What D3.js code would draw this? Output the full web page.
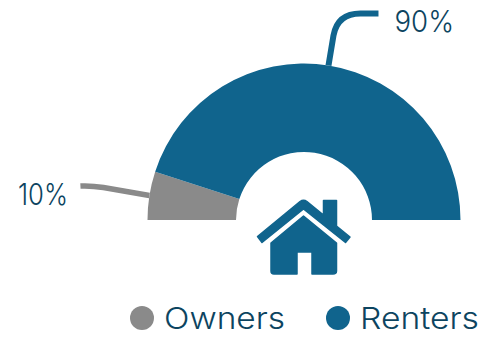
<!DOCTYPE html>
<html>
<head>
<meta charset="utf-8">
<script src="https://cdn.jsdelivr.net/npm/d3@7/dist/d3.min.js"></script>
<style>
html,body{margin:0;padding:0;background:#fff}
text{font-family:"Inter","Open Sans",sans-serif;font-weight:300;fill:#0c4460}
</style>
</head>
<body>
<svg id="chart" width="490" height="338"></svg>
<script>
// Housing tenure split, drawn as a half donut
const categories = ["Owners", "Renters"];
const shares = [10, 90];
const valueLabels = ["10%", "90%"];
const colours = ["#8a8a8a", "#10648d"];

const svg = d3.select("#chart");
const cx = 304, cy = 220, outerR = 156.5, innerR = 68;
const root = svg.append("g").attr("transform", `translate(${cx},${cy})`);

const pie = d3.pie().sort(null).value(d => d)
  .startAngle(-Math.PI / 2).endAngle(Math.PI / 2);
const arcs = pie(shares);
const arc = d3.arc().innerRadius(innerR).outerRadius(outerR);

root.selectAll("path.slice").data(arcs).join("path")
  .attr("class", "slice")
  .attr("d", arc)
  .attr("fill", (d, i) => colours[i]);

// Leader lines start on the rim at each slice's mid angle
const rim = d => {
  const a = (d.startAngle + d.endAngle) / 2;
  return [outerR * Math.sin(a), -outerR * Math.cos(a)];
};
const leaderShapes = [
  ([x, y]) => `M${x},${y}L${x - 46},${y - 8}Q${x - 58},${y - 10} ${x - 69},${y - 9.5}`,
  ([x, y]) => `M${x},${y}L${x + 5},${y - 30}Q${x + 9},${y - 52} ${x + 32},${y - 52}L${x + 50},${y - 52}`
];
root.selectAll("path.leader").data(arcs).join("path")
  .attr("class", "leader")
  .attr("d", (d, i) => leaderShapes[i](rim(d)))
  .attr("fill", "none")
  .attr("stroke", (d, i) => colours[i])
  .attr("stroke-width", (d, i) => i ? 6 : 5.5);

// Value labels beside the leader ends
const labelPos = [[18, 205], [394.5, 31.5]];
svg.selectAll("text.value").data(valueLabels).join("text")
  .attr("class", "value")
  .attr("x", (d, i) => labelPos[i][0])
  .attr("y", (d, i) => labelPos[i][1])
  .attr("font-size", 30)
  .attr("textLength", (d, i) => i ? 59.5 : 50)
  .attr("lengthAdjust", "spacingAndGlyphs")
  .text(d => d);

// House icon in the hollow of the donut
svg.append("path")
  .attr("fill", colours[1])
  .attr("stroke", colours[1])
  .attr("stroke-width", 1.5)
  .attr("stroke-linejoin", "round")
  .attr("d", "M257.5,236.5L300,201.5Q303.5,199 307,201.5L323.5,215V200.5H336.5V226L350,237L345.5,242.5L303.5,209L262,242.5Z");
svg.append("path")
  .attr("fill", colours[1])
  .attr("stroke", colours[1])
  .attr("stroke-width", 1.5)
  .attr("stroke-linejoin", "round")
  .attr("d", "M271,243L303.5,216L336.5,243V271Q336.5,274 333,274H312V252H297V274H274Q271,274 271,271Z");

// Legend along the bottom
const legendPos = [[142, 164, 121], [338, 360, 119]];
const legend = svg.selectAll("g.legend").data(categories).join("g").attr("class", "legend");
legend.append("circle")
  .attr("cx", (d, i) => legendPos[i][0])
  .attr("cy", 318)
  .attr("r", 12)
  .attr("fill", (d, i) => colours[i]);
legend.append("text")
  .attr("x", (d, i) => legendPos[i][1])
  .attr("y", 328.5)
  .attr("font-size", 30)
  .attr("textLength", (d, i) => legendPos[i][2])
  .attr("lengthAdjust", "spacingAndGlyphs")
  .text(d => d);
</script>
</body>
</html>
